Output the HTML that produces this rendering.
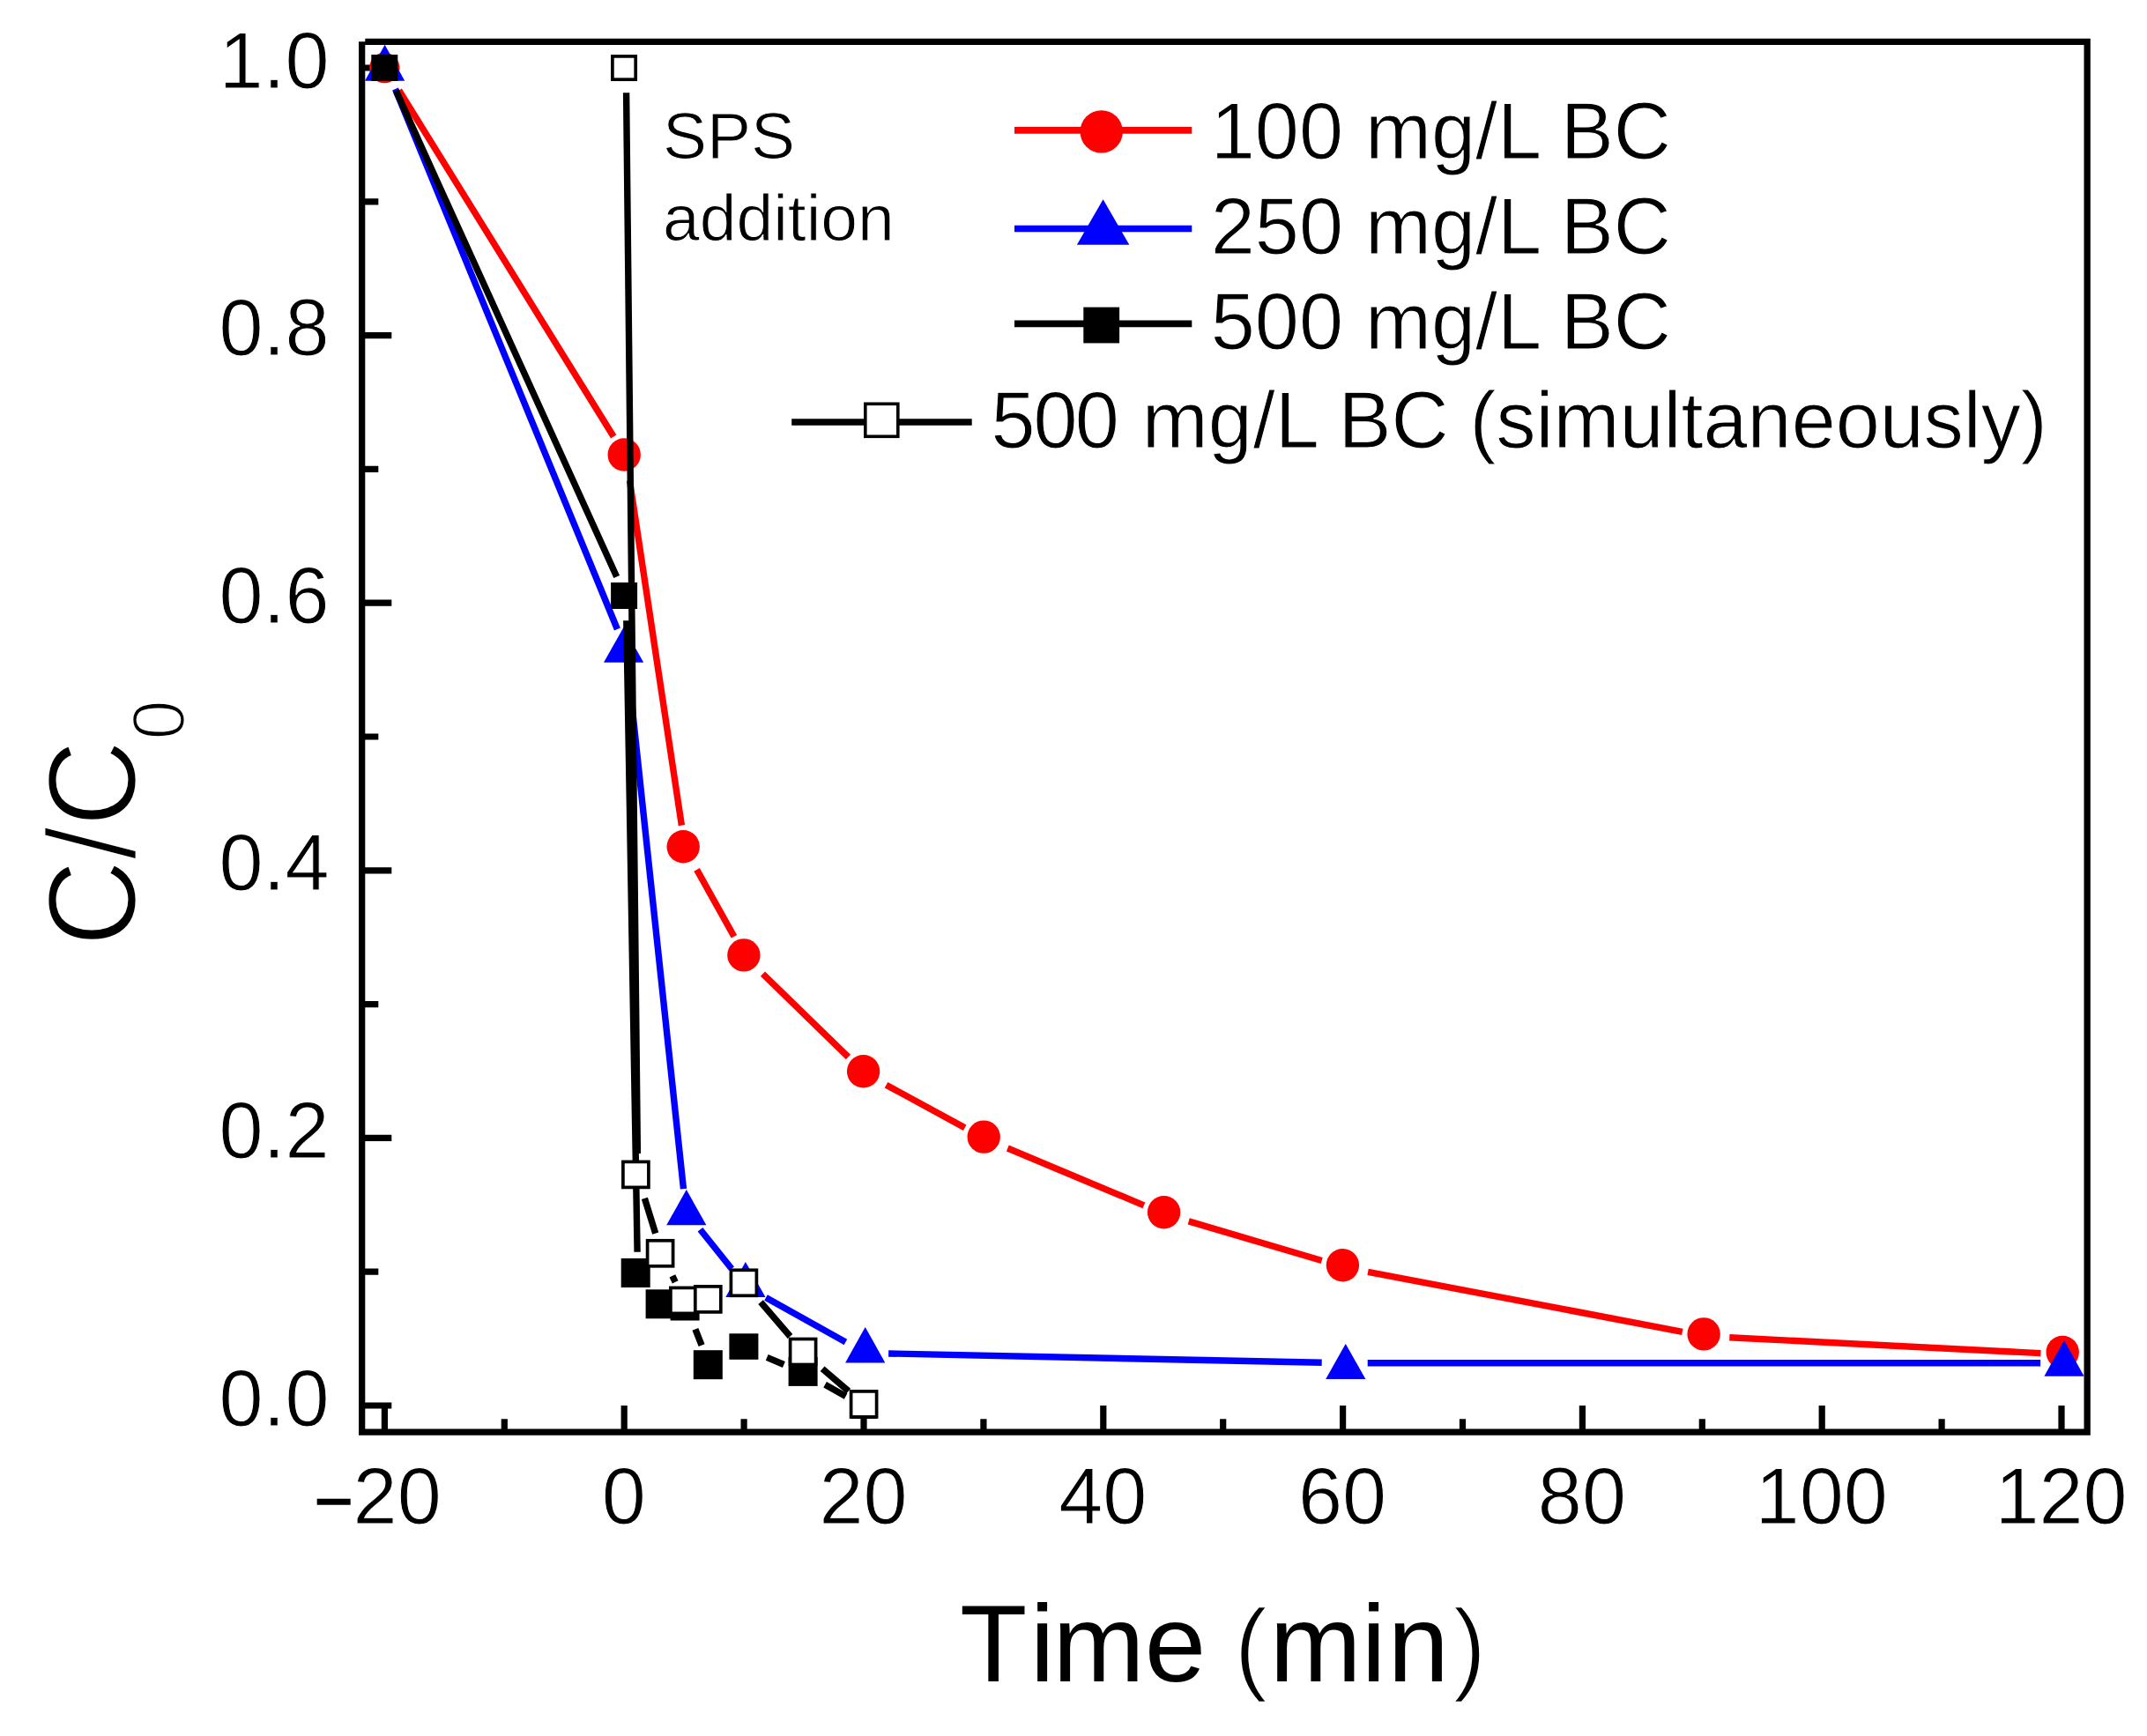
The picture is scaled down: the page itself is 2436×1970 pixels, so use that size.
<!DOCTYPE html>
<html><head><meta charset="utf-8"><title>C/C0 vs Time</title>
<style>
html,body{margin:0;padding:0;background:#fff}
svg{display:block}
text{font-family:"Liberation Sans",sans-serif;fill:#000}
</style></head><body>
<svg width="2436" height="1970" viewBox="0 0 2436 1970">
<rect width="2436" height="1970" fill="#fff"/>
<path d="M414.3 43.8H2371.8V1628.8H407.0V47.199999999999996H414.3Z M414.3 51.099999999999994V1621.5H2364.5V51.099999999999994Z" fill="#000" fill-rule="evenodd"/>
<path d="M413.3 1595.0h31M413.3 1443.2h16M413.3 1291.4h31M413.3 1139.6h16M413.3 987.8h31M413.3 836.0h16M413.3 684.2h31M413.3 532.4h16M413.3 380.6h31M413.3 228.8h16M413.3 77.0h31M436.4 1622.5v-27.5M572.3 1622.5v-12.2M708.2 1622.5v-27.5M844.1 1622.5v-12.2M980.0 1622.5v-27.5M1115.9 1622.5v-12.2M1251.8 1622.5v-27.5M1387.7 1622.5v-12.2M1523.6 1622.5v-27.5M1659.5 1622.5v-12.2M1795.4 1622.5v-27.5M1931.3 1622.5v-12.2M2067.2 1622.5v-27.5M2203.1 1622.5v-12.2M2339.0 1622.5v-27.5" stroke="#000" stroke-width="7.2" fill="none"/>
<path d="M452.7 102.5L696.2 495.5M714.4 545.2L773.4 936.6M790.6 986.9L832.9 1062.8M865.5 1105.2L962.4 1199.5M1005.5 1231.2L1094.7 1279.7M1143.3 1303.0L1297.9 1367.8M1348.7 1385.9L1499.7 1430.5M1552.1 1443.3L1908.8 1511.3M1962.3 1517.8L2315.4 1535.6" stroke="#f00" stroke-width="7.4" fill="none"/>
<circle cx="436.3" cy="77" r="17.2" fill="#f00"/>
<circle cx="708.2" cy="516" r="18.7" fill="#f00"/>
<circle cx="775.2" cy="960.8" r="18.7" fill="#f00"/>
<circle cx="843.9" cy="1083.9" r="18.7" fill="#f00"/>
<circle cx="979.6" cy="1215.8" r="18.7" fill="#f00"/>
<circle cx="1116.2" cy="1290.1" r="18.7" fill="#f00"/>
<circle cx="1320.6" cy="1375.7" r="18.7" fill="#f00"/>
<circle cx="1523.4" cy="1435.7" r="18.7" fill="#f00"/>
<circle cx="1933.1" cy="1513.9" r="18.7" fill="#f00"/>
<circle cx="2340.2" cy="1534.5" r="18.7" fill="#f00"/>
<path d="M448.5 101.0L700.4 714.0M713.1 763.9L775.5 1349.1M794.5 1395.3L830.1 1439.7M869.0 1472.6L959.4 1522.9M1008.1 1536.0L1499.7 1546.2M1551.7 1546.7L2315.1 1546.8" stroke="#00f" stroke-width="7.4" fill="none"/>
<path d="M436.6 50.7L459.20000000000005 91.7H414.0Z" fill="#00f"/>
<path d="M707.6 711.7L730.2 751.7H685.0Z" fill="#00f"/>
<path d="M778.8 1350L801.4 1390.2H756.1999999999999Z" fill="#00f"/>
<path d="M845.9 1432L868.5 1472H823.3Z" fill="#00f"/>
<path d="M981.7 1505.9L1004.3000000000001 1546.4H959.1Z" fill="#00f"/>
<path d="M1526.8 1524.9L1549.3999999999999 1565H1504.2Z" fill="#00f"/>
<path d="M2342 1521L2364.6 1561.7H2319.4Z" fill="#00f"/>
<path d="M449.3 102.9L699.7 654.5M710.8 704.2L723.1 1420.7M788.9 1508.4L796.1 1526.7M870.2 1540.4L889.4 1548.5M936.1 1571.3L959.6 1584.5" stroke="#000" stroke-width="7.4" fill="none"/>
<rect x="421.3" y="62.0" width="30" height="30" fill="#000"/>
<rect x="693.1" y="661.0" width="30" height="30" fill="#000"/>
<rect x="704.7" y="1428.0" width="33" height="33" fill="#000"/>
<rect x="732.6" y="1463.3" width="33" height="33" fill="#000"/>
<rect x="760.6" y="1465.5" width="33" height="33" fill="#000"/>
<rect x="786.8" y="1532.2" width="33" height="33" fill="#000"/>
<rect x="827.4" y="1513.3" width="33" height="29.5" fill="#000"/>
<rect x="894.6" y="1539.9" width="33" height="33" fill="#000"/>
<rect x="965.0" y="1580.0" width="30" height="30" fill="#000"/>
<path d="M710.6 105.2L723.4 1309.1M731.4 1359.9L743.7 1399.7M762.9 1447.8L766.2 1454.8M863.1 1477.7L896.5 1516.5M933.1 1553.2L962.7 1578.6" stroke="#000" stroke-width="7.4" fill="none"/>
<rect x="694.9" y="63.9" width="26.3" height="26.3" fill="#fff" stroke="#000" stroke-width="3.7"/>
<rect x="706.9" y="1318.4" width="29.0" height="29.0" fill="#fff" stroke="#000" stroke-width="3.7"/>
<rect x="734.6" y="1407.8" width="29.0" height="29.0" fill="#fff" stroke="#000" stroke-width="3.7"/>
<rect x="760.9" y="1461.4" width="29.0" height="29.0" fill="#fff" stroke="#000" stroke-width="3.7"/>
<rect x="788.8" y="1459.9" width="29.0" height="29.0" fill="#fff" stroke="#000" stroke-width="3.7"/>
<rect x="829.4" y="1441.3" width="29.0" height="29.0" fill="#fff" stroke="#000" stroke-width="3.7"/>
<rect x="896.6" y="1519.5" width="29.0" height="29.0" fill="#fff" stroke="#000" stroke-width="3.7"/>
<rect x="965.6" y="1578.9" width="29.0" height="29.0" fill="#fff" stroke="#000" stroke-width="3.7"/>
<path d="M1151 147.9H1352.3" stroke="#f00" stroke-width="7.6"/>
<path d="M1151 259.5H1352.3" stroke="#00f" stroke-width="7.6"/>
<path d="M1151 367.4H1352.3" stroke="#000" stroke-width="7.6"/>
<circle cx="1249.7" cy="149.4" r="24.2" fill="#f00"/>
<path d="M1251.6 226.3L1281.3 277.7H1221.9Z" fill="#00f"/>
<rect x="1229.3" y="348.6" width="40.8" height="40.8" fill="#000"/>
<path d="M898.2 479H1102.7" stroke="#000" stroke-width="7.6"/>
<rect x="981.8" y="458.3" width="37" height="37" fill="#fff" stroke="#000" stroke-width="3.6"/>
<text x="1373.8" y="180" font-size="90" text-anchor="start" stroke="#fff" stroke-width="1">100 mg/L BC</text>
<text x="1373.8" y="288" font-size="90" text-anchor="start" stroke="#fff" stroke-width="1">250 mg/L BC</text>
<text x="1373.8" y="396" font-size="90" text-anchor="start" stroke="#fff" stroke-width="1">500 mg/L BC</text>
<text x="1124.5" y="507.5" font-size="90" text-anchor="start" stroke="#fff" stroke-width="1" dx="0 -2 -3 0 1 0 1 0 0 0 0 0 -1">500 mg/L BC (simultaneously)</text>
<text x="752" y="180" font-size="75" text-anchor="start" stroke="#fff" stroke-width="1">SPS</text>
<text x="752" y="273.3" font-size="75" text-anchor="start" stroke="#fff" stroke-width="1">addition</text>
<text x="373.5" y="1617.5" font-size="90" text-anchor="end" stroke="#fff" stroke-width="1">0.0</text>
<text x="373.5" y="1313.9" font-size="90" text-anchor="end" stroke="#fff" stroke-width="1">0.2</text>
<text x="373.5" y="1010.3" font-size="90" text-anchor="end" stroke="#fff" stroke-width="1">0.4</text>
<text x="373.5" y="706.7" font-size="90" text-anchor="end" stroke="#fff" stroke-width="1">0.6</text>
<text x="373.5" y="403.0999999999999" font-size="90" text-anchor="end" stroke="#fff" stroke-width="1">0.8</text>
<text x="373.5" y="99.5" font-size="90" text-anchor="end" stroke="#fff" stroke-width="1">1.0</text>
<text x="707.7" y="1729" font-size="90" text-anchor="middle" stroke="#fff" stroke-width="1">0</text>
<text x="979.5" y="1729" font-size="90" text-anchor="middle" stroke="#fff" stroke-width="1">20</text>
<text x="1251.3000000000002" y="1729" font-size="90" text-anchor="middle" stroke="#fff" stroke-width="1">40</text>
<text x="1523.1" y="1729" font-size="90" text-anchor="middle" stroke="#fff" stroke-width="1">60</text>
<text x="1794.9" y="1729" font-size="90" text-anchor="middle" stroke="#fff" stroke-width="1">80</text>
<text x="2066.7" y="1729" font-size="90" text-anchor="middle" stroke="#fff" stroke-width="1">100</text>
<text x="2338.5" y="1729" font-size="90" text-anchor="middle" stroke="#fff" stroke-width="1">120</text>
<text x="500.7" y="1729" font-size="90" text-anchor="end" stroke="#fff" stroke-width="1"><tspan font-size="75" stroke="#000" stroke-width="1.6">−</tspan>20</text>
<text x="1089" y="1908" font-size="125" dx="0 8 -2 0 0 -3 2 0 2 4">Time <tspan font-size="116" stroke="#fff" stroke-width="2.4">(</tspan>min<tspan font-size="116" stroke="#fff" stroke-width="2.4">)</tspan></text>
<text transform="translate(153.5,1074) rotate(-90) scale(1,1.05)" font-size="136" stroke="#fff" stroke-width="2.6">C/C<tspan font-size="82" dy="52.5">0</tspan></text>
</svg>
</body></html>
